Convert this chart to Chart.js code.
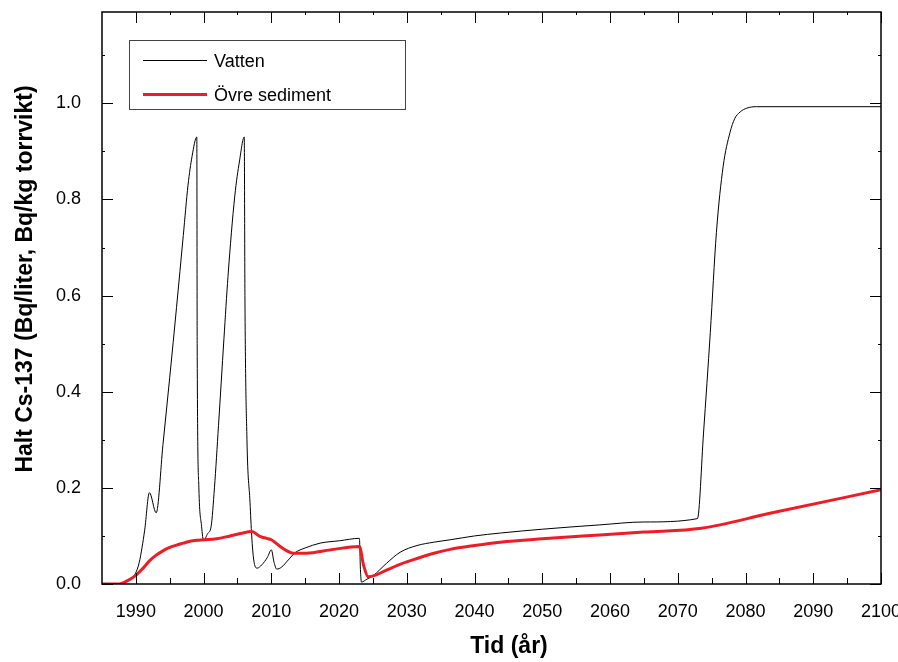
<!DOCTYPE html>
<html>
<head>
<meta charset="utf-8">
<script src="https://cdn.jsdelivr.net/npm/chart.js@4.4.1/dist/chart.umd.min.js"></script>
<style>
html,body{margin:0;padding:0;background:#fff;}
canvas{display:block;}
</style>
</head>
<body>
<canvas id="c" width="898" height="662"></canvas>
<script>
// ---- Data ----
const vattenYears = [1985, 1987.2, 1988.5, 1989.9, 1990.5, 1990.9, 1991.3, 1992.0, 1993.0, 1994.0, 1995.0, 1996.0, 1997.0, 1997.7, 1998.3, 1999.0,
  1999.05, 1999.3, 1999.7, 2000.0, 2000.6, 2001.1, 2001.6, 2002.2, 2003.0, 2003.6, 2004.6, 2005.3, 2006.0,
  2006.1, 2006.4, 2006.85, 2007.1, 2007.4, 2007.9, 2008.6, 2009.4, 2010.0, 2010.4, 2010.8, 2011.5, 2012.5, 2013.5, 2015.0, 2017.2, 2020.1, 2023.0,
  2023.15, 2023.3, 2024.1, 2025.0, 2027.0, 2029.0, 2031.5, 2034.0, 2036.4, 2040.0, 2043.8, 2050.0, 2058.5, 2065.0, 2072.9,
  2073.8, 2074.8, 2075.7, 2076.7, 2077.7, 2078.4, 2079.2, 2080.2, 2081.6, 2100];
const vattenValues = [0, 0, 0.006, 0.021, 0.045, 0.075, 0.112, 0.19, 0.148, 0.29, 0.43, 0.575, 0.725, 0.83, 0.89, 0.93,
  0.5, 0.2, 0.12, 0.09, 0.105, 0.119, 0.2, 0.33, 0.51, 0.64, 0.807, 0.88, 0.93,
  0.6, 0.3, 0.17, 0.10, 0.05, 0.033, 0.04, 0.055, 0.071, 0.045, 0.031, 0.035, 0.05, 0.065, 0.075, 0.085, 0.09, 0.095,
  0.03, 0.004, 0.01, 0.017, 0.043, 0.066, 0.08, 0.087, 0.092, 0.10, 0.106, 0.114, 0.123, 0.129, 0.136,
  0.314, 0.523, 0.731, 0.869, 0.939, 0.968, 0.982, 0.99, 0.993, 0.993];

const sedimentYears = [1985, 1987.5, 1988.5, 1990.0, 1991.0, 1992.0, 1993.0, 1994.0, 1995.0, 1996.0, 1997.0, 1998.0, 1999.0, 2000.0, 2001.9, 2003.9, 2005.5, 2007.1,
  2008.3, 2009.3, 2010.0, 2010.6, 2011.3, 2012.3, 2013.2, 2015.2, 2018.7, 2023.0,
  2023.6, 2024.3, 2025.5, 2027.0, 2029.0, 2031.5, 2034.0, 2036.4, 2040.0, 2043.8, 2050.0, 2058.5, 2065.0, 2073.5, 2083.6, 2100];
const sedimentValues = [0, 0, 0.005, 0.018, 0.032, 0.048, 0.06, 0.069, 0.076, 0.081, 0.085, 0.089, 0.091, 0.092, 0.094, 0.10, 0.105, 0.109,
  0.099, 0.095, 0.092, 0.086, 0.078, 0.069, 0.064, 0.064, 0.071, 0.078,
  0.04, 0.015, 0.019, 0.029, 0.041, 0.053, 0.064, 0.072, 0.080, 0.087, 0.094, 0.102, 0.108, 0.116, 0.147, 0.196];

const seriesNames = ['Vatten', 'Övre sediment'];
const xTickValues = [1990, 2000, 2010, 2020, 2030, 2040, 2050, 2060, 2070, 2080, 2090, 2100];
const xMinorTicks = [1995, 2005, 2015, 2025, 2035, 2045, 2055, 2065, 2075, 2085, 2095];
const yTickValues = [0.0, 0.2, 0.4, 0.6, 0.8, 1.0];
const yMinorTicks = [0.1, 0.3, 0.5, 0.7, 0.9, 1.1];
const xTitle = 'Tid (år)';
const yTitle = 'Halt Cs-137 (Bq/liter, Bq/kg torrvikt)';

const RED = '#ee1c25';
const FONT = "'Liberation Sans', Arial, sans-serif";

const toPoints = (xs, ys) => xs.map((x, i) => ({x: x, y: ys[i]}));

const framePlugin = {
  id: 'frameTicks',
  afterDatasetsDraw(chart) {
    const ctx = chart.ctx;
    const {left, right, top, bottom} = chart.chartArea;
    const xs = chart.scales.x, ys = chart.scales.y;
    ctx.save();
    ctx.strokeStyle = '#000';
    ctx.lineWidth = 1;
    const seg = (x1, y1, x2, y2) => { ctx.beginPath(); ctx.moveTo(x1, y1); ctx.lineTo(x2, y2); ctx.stroke(); };
    xTickValues.forEach(v => {
      const p = Math.round(xs.getPixelForValue(v)) + 0.5;
      seg(p, bottom, p, bottom - 11);
      seg(p, top, p, top + 11);
    });
    xMinorTicks.forEach(v => {
      const p = Math.round(xs.getPixelForValue(v)) + 0.5;
      seg(p, bottom, p, bottom - 6);
      seg(p, top, p, top + 3);
    });
    yTickValues.forEach(v => {
      const p = Math.round(ys.getPixelForValue(v)) + 0.5;
      seg(left, p, left + 11, p);
      seg(right, p, right - 11, p);
    });
    yMinorTicks.forEach(v => {
      const p = Math.round(ys.getPixelForValue(v)) + 0.5;
      seg(left, p, left + 3, p);
      seg(right, p, right - 3, p);
    });
    ctx.lineWidth = 1.5;
    ctx.strokeRect(left, top, right - left, bottom - top);

    // legend
    ctx.lineWidth = 1;
    ctx.strokeStyle = '#444';
    ctx.strokeRect(129.5, 40.5, 276, 69);
    ctx.strokeStyle = '#000';
    ctx.lineWidth = 1;
    seg(143, 60.5, 207, 60.5);
    ctx.strokeStyle = RED;
    ctx.lineWidth = 3;
    seg(143, 94.5, 207, 94.5);
    ctx.fillStyle = '#000';
    ctx.font = '18px ' + FONT;
    ctx.textBaseline = 'middle';
    ctx.textAlign = 'left';
    ctx.fillText(seriesNames[0], 214, 62);
    ctx.fillText(seriesNames[1], 214, 96);

    // axis titles
    ctx.font = 'bold 23px ' + FONT;
    ctx.textAlign = 'center';
    ctx.textBaseline = 'middle';
    ctx.fillText(xTitle, 509, 647);
    ctx.translate(26, 279);
    ctx.rotate(-Math.PI / 2);
    ctx.fillText(yTitle, 0, 0);
    ctx.restore();
  }
};

Chart.defaults.font.family = FONT;
Chart.defaults.color = '#000';

new Chart(document.getElementById('c'), {
  type: 'line',
  data: {
    datasets: [
      {
        label: seriesNames[1],
        data: toPoints(sedimentYears, sedimentValues),
        borderColor: RED,
        borderWidth: 3,
        pointRadius: 0,
        cubicInterpolationMode: 'monotone',
        fill: false,
        order: 0
      },
      {
        label: seriesNames[0],
        data: toPoints(vattenYears, vattenValues),
        borderColor: '#000',
        borderWidth: 1,
        pointRadius: 0,
        cubicInterpolationMode: 'monotone',
        fill: false,
        order: 1
      }
    ]
  },
  options: {
    responsive: false,
    animation: false,
    devicePixelRatio: 1,
    layout: {padding: {top: 12, right: 17, left: 0, bottom: 0}},
    plugins: {legend: {display: false}, tooltip: {enabled: false}},
    scales: {
      x: {
        type: 'linear',
        min: 1985,
        max: 2100,
        grid: {display: false},
        border: {display: false},
        afterBuildTicks: s => { s.ticks = xTickValues.map(v => ({value: v})); },
        afterFit: s => { s.height = 78; s.paddingLeft = 0; s.paddingRight = 0; },
        ticks: {
          font: {size: 18},
          padding: 9,
          maxRotation: 0,
          autoSkip: false,
          callback: v => String(v)
        },
        title: {display: false}
      },
      y: {
        type: 'linear',
        min: 0,
        max: 1.19,
        grid: {display: false},
        border: {display: false},
        afterBuildTicks: s => { s.ticks = yTickValues.map(v => ({value: v})); },
        afterFit: s => { s.width = 102; s.paddingTop = 0; s.paddingBottom = 0; },
        ticks: {
          font: {size: 18},
          padding: 13,
          autoSkip: false,
          callback: v => Number(v).toFixed(1)
        },
        title: {display: false}
      }
    }
  },
  plugins: [framePlugin]
});
</script>
</body>
</html>
